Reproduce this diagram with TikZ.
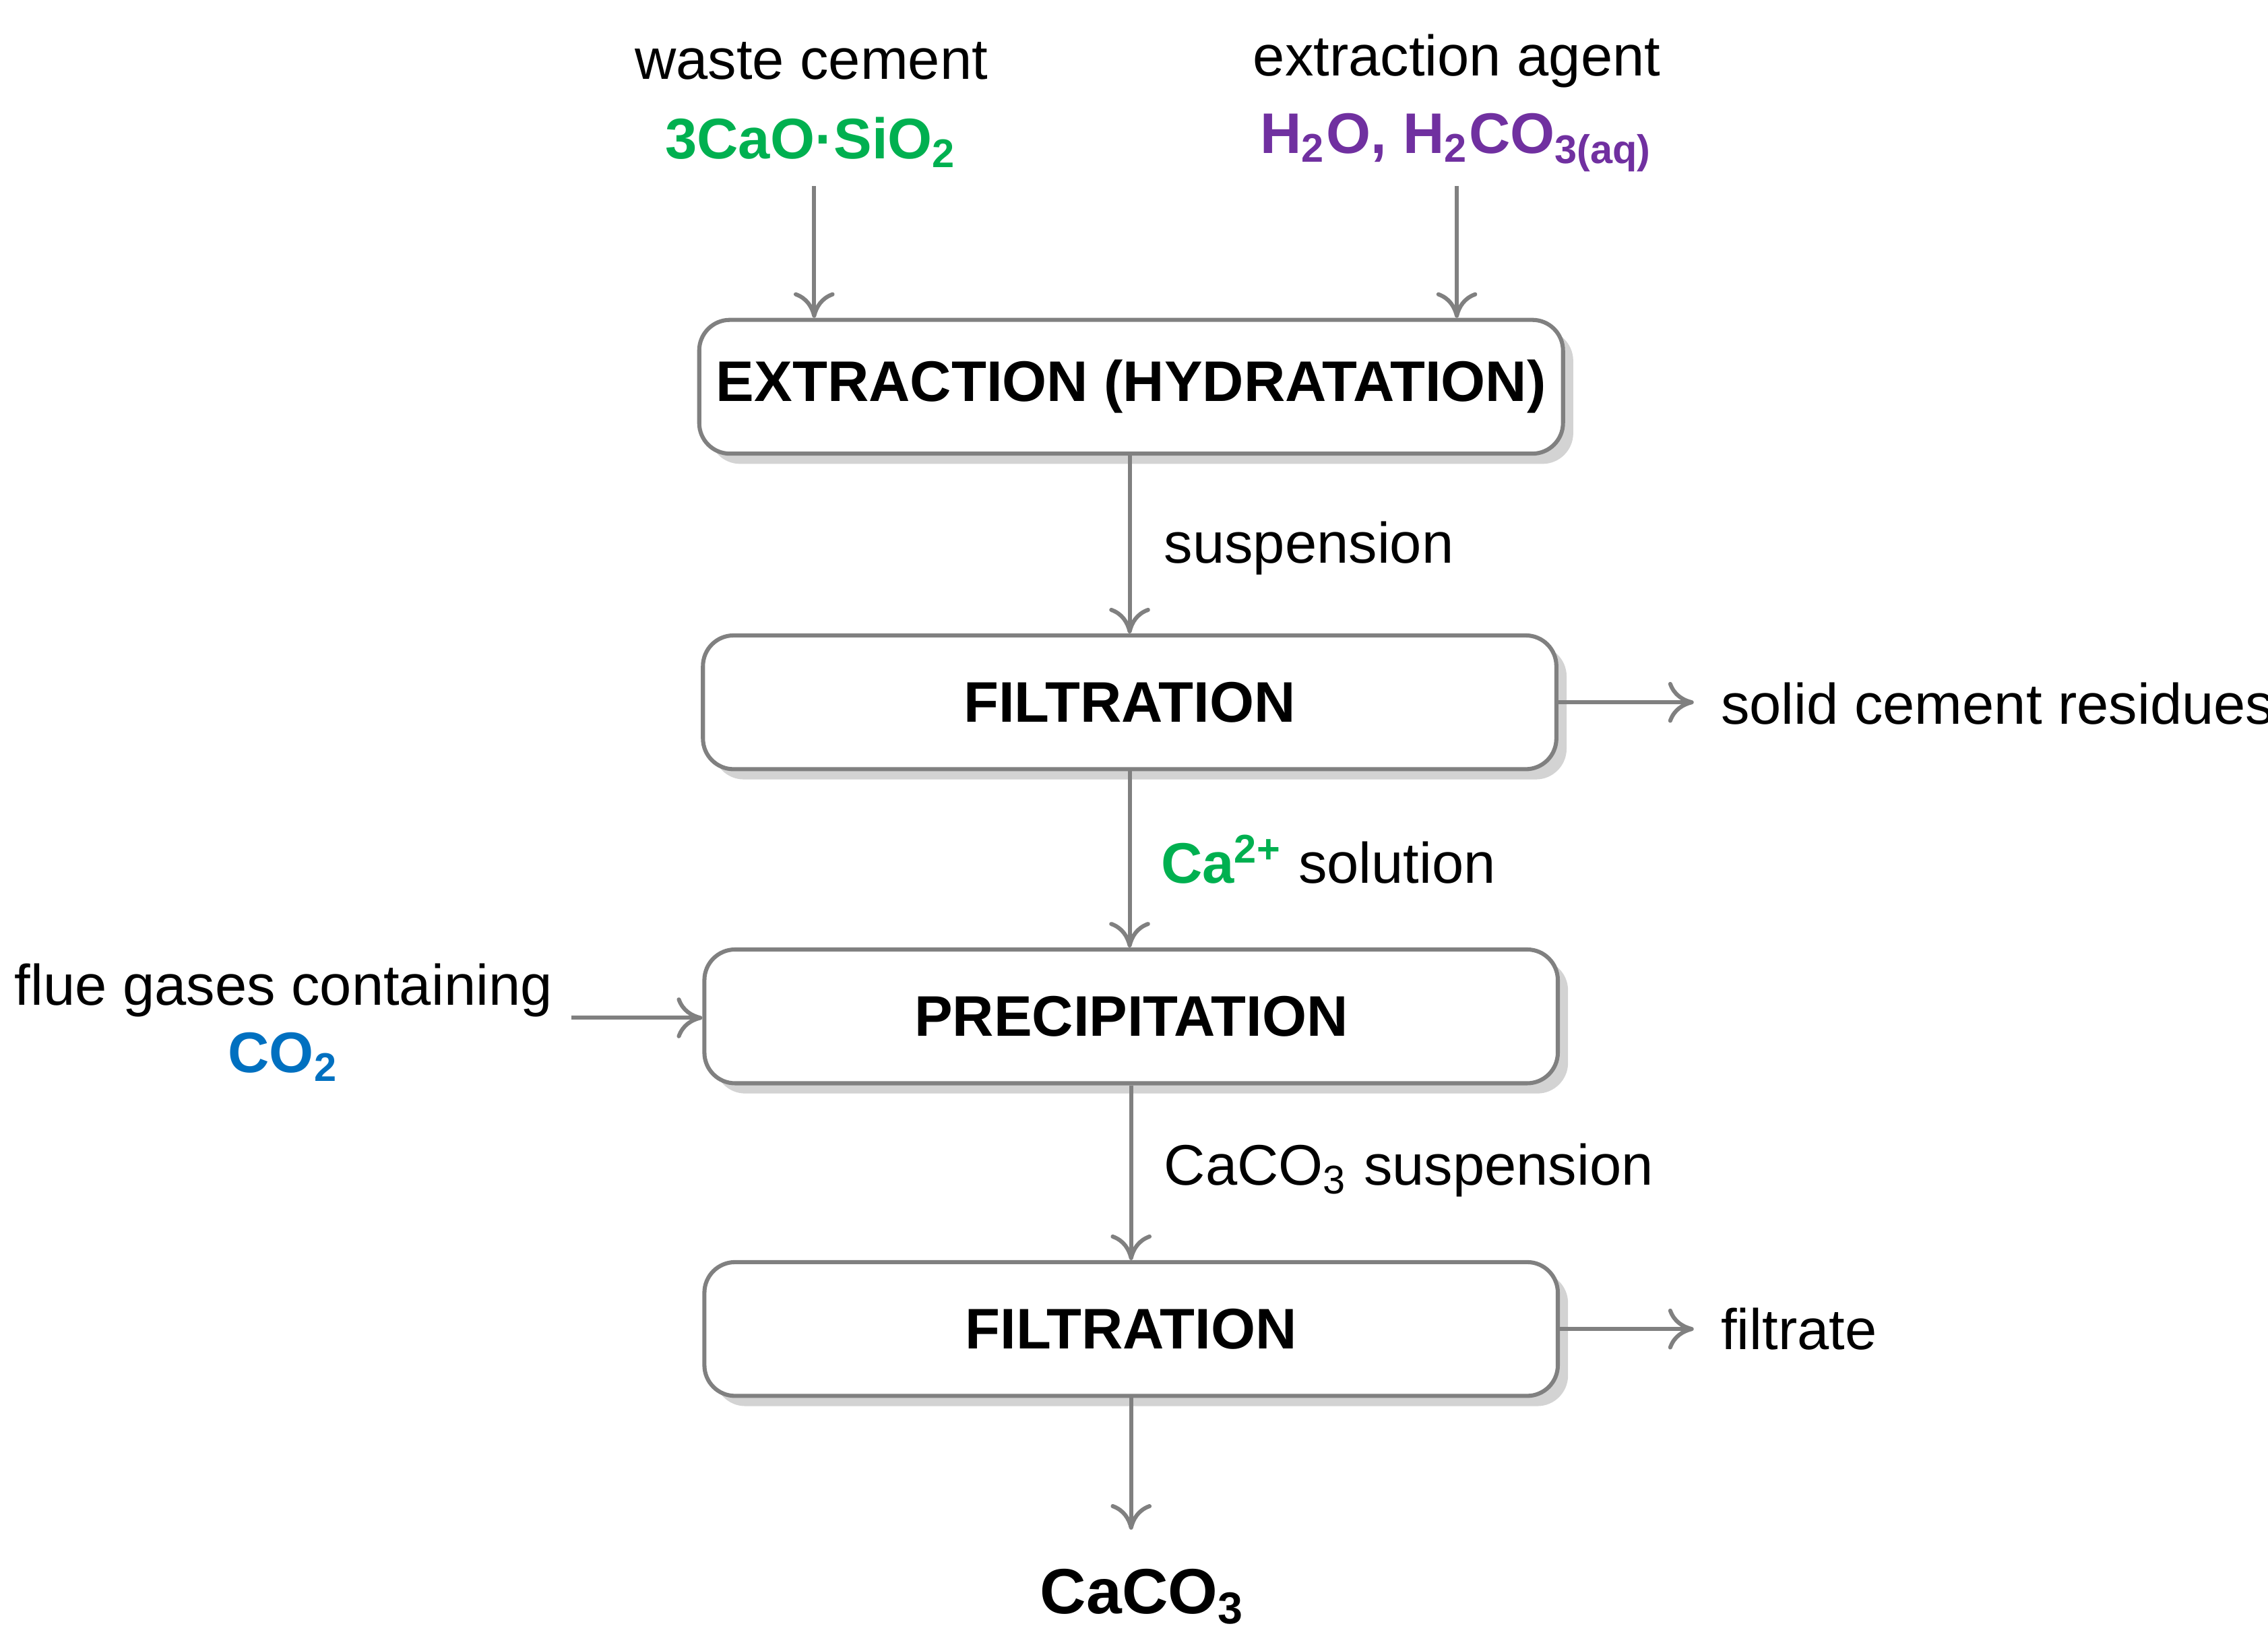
\documentclass[tikz,border=0pt]{standalone}
\usepackage{fontspec}
\setmainfont{Liberation Sans}
\usetikzlibrary{shadows,arrows.meta}
\definecolor{cgreen}{RGB}{0,176,80}
\definecolor{cpurple}{RGB}{112,48,160}
\definecolor{cblue}{RGB}{0,112,192}
\definecolor{cline}{RGB}{128,128,128}
\tikzset{
  stage/.style={draw=cline,line width=0.8pt,rounded corners=6pt,fill=white,
    minimum width=5.87cm,minimum height=0.92cm,font=\fontsize{11.2}{13}\selectfont\bfseries,
    drop shadow={shadow xshift=2pt,shadow yshift=-2pt,opacity=0.35}},
  lbl/.style={font=\fontsize{11.2}{13}\selectfont,inner sep=0pt},
  flow/.style={draw=cline,line width=0.8pt,-{To[length=5pt,width=8pt]}}
}
\begin{document}
\begin{tikzpicture}
\useasboundingbox (0,0) rectangle (15.6,11.34);
\node[stage] (ext) at (7.78,8.68) {EXTRACTION (HYDRATATION)};
\node[stage] (fil1) at (7.77,6.51) {FILTRATION};
\node[stage] (pre) at (7.78,4.35) {PRECIPITATION};
\node[stage] (fil2) at (7.78,2.20) {FILTRATION};
\node[lbl] (waste) at (5.58,10.92) {waste cement};
\node[lbl,text=cgreen,font=\fontsize{11.2}{13}\selectfont\bfseries] (cem) at (5.58,10.36) {3CaO·SiO\textsubscript{2}};
\node[lbl] (agent) at (10.02,10.92) {extraction agent};
\node[lbl,text=cpurple,font=\fontsize{11.2}{13}\selectfont\bfseries] (h2o) at (10.02,10.36) {H\textsubscript{2}O, H\textsubscript{2}CO\textsubscript{3(aq)}};
\node[lbl,anchor=west] (susp) at (8.00,7.57) {suspension};
\node[lbl,anchor=west] (resid) at (11.83,6.50) {solid cement residues};
\node[lbl,anchor=west] (ca) at (7.98,5.43) {\textcolor{cgreen}{\bfseries Ca\textsuperscript{2+}} solution};
\node[lbl] (flue) at (1.95,4.53) {flue gases containing};
\node[lbl,text=cblue,font=\fontsize{11.2}{13}\selectfont\bfseries] (co2) at (1.95,4.07) {CO\textsubscript{2}};
\node[lbl,anchor=west] (csusp) at (8.00,3.29) {CaCO\textsubscript{3} suspension};
\node[lbl,anchor=west] (filt) at (11.83,2.20) {filtrate};
\node[lbl,font=\fontsize{12.5}{14}\selectfont\bfseries] (prod) at (7.86,0.36) {CaCO\textsubscript{3}};
\coordinate (a1) at (5.60,10.06);
\coordinate (a2) at (10.02,10.06);
\coordinate (a3) at (3.93,4.34);
\draw[flow] (ext.south -| fil1.south) -- (fil1.south |- fil1.north);
\draw[flow] (a1) -- (a1 |- ext.north);
\draw[flow] (a2) -- (a2 |- ext.north);
\draw[flow] (fil1.east) -- (11.65,6.51);
\draw[flow] (fil1.south) -- (fil1.south |- pre.north);
\draw[flow] (a3) -- (a3 -| pre.west);
\draw[flow] (pre.south) -- (pre.south |- fil2.north);
\draw[flow] (fil2.east) -- (11.65,2.20);
\draw[flow] (fil2.south) -- (7.78,0.82);
\end{tikzpicture}
\end{document}
